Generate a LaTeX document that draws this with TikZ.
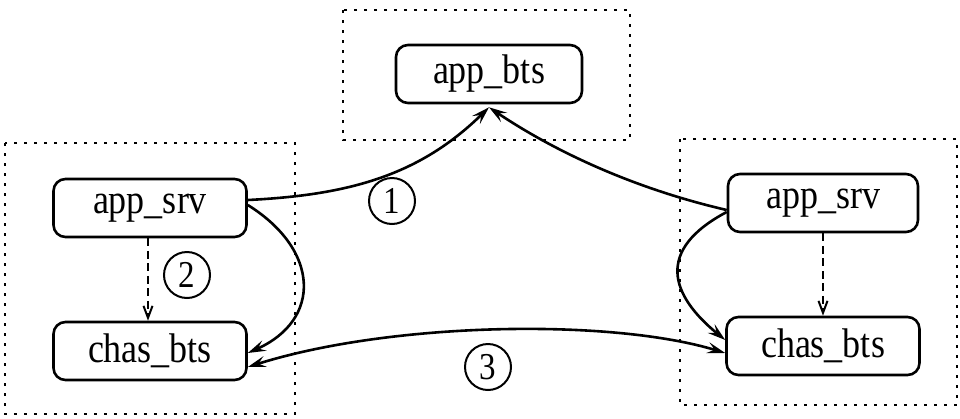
\documentclass[tikz,border=0pt]{standalone}
\usepackage{fontspec}
\usepackage{graphicx}
\setmainfont{Liberation Serif}
\usetikzlibrary{arrows.meta}
% labels are set slightly taller than wide
\newcommand\tall[1]{\scalebox{1}[1.15]{#1}}

\begin{document}
\begin{tikzpicture}[x=1pt,y=-1pt,
  proc/.style={draw,rounded corners=12pt,line width=2.6pt,minimum width=193pt,
    minimum height=58pt,inner sep=0pt,font=\fontsize{36}{40}\selectfont},
  group/.style={line width=2.8pt,dash pattern=on 2.8pt off 7.2pt},
  tag/.style={draw,circle,line width=2pt,minimum size=46pt,inner sep=0pt,
    font=\fontsize{33}{36}\selectfont},
  msg/.style={line width=2.6pt,-{Stealth[length=18pt,width=11pt,inset=7pt]}},
  msgboth/.style={line width=2.6pt,{Stealth[length=18pt,width=11pt,inset=7pt]}-{Stealth[length=18pt,width=11pt,inset=7pt]}},
  local/.style={line width=2pt,dash pattern=on 8pt off 4.5pt,
    -{Straight Barb[length=12pt,width=9pt,line width=2pt]}}]

\useasboundingbox (0,0) rectangle (960,418);

% dotted groups
\draw[group] (343,10) rectangle (630,140);
\draw[group] (5,143) rectangle (295,414);
\draw[group] (680,139) rectangle (957,405);

% processes
\node[proc,minimum width=186pt] (appbts) at (489,74) {\tall{app\_bts}};
\node[proc] (lsrv) at (150,208) {\tall{app\_srv}};
\node[proc] (lchas) at (150,351) {\tall{chas\_bts}};
\node[proc,minimum width=190pt] (rsrv) at (823,203) {\tall{app\_srv}};
\node[proc] (rchas) at (823,346) {\tall{chas\_bts}};

% step numbers
\node[tag] (n1) at (392,201) {\tall{1}};
\node[tag] (n2) at (187,275) {\tall{2}};
\node[tag] (n3) at (488,367) {\tall{3}};

% messages
\draw[msg] ([yshift=8pt]lsrv.east) .. controls (350,195) and (420,175) .. ([yshift=-3pt]appbts.south);
\draw[msg] ([yshift=-7pt]rsrv.west) .. controls (640,190) and (560,155) .. ([yshift=-3pt]appbts.south);
\draw[msg] ([yshift=3pt]lsrv.east) .. controls (320,250) and (322,320) .. ([yshift=-2pt]lchas.east);
\draw[msg] ([yshift=-9pt]rsrv.west) .. controls (655,250) and (670,295) .. ([yshift=6pt]rchas.west);
\draw[msgboth] ([yshift=-16pt]lchas.east) .. controls (390,322) and (610,318) .. ([yshift=-7pt]rchas.west);

% local steps
\draw[local] ([xshift=-2pt]lsrv.south) -- ([xshift=-2pt]lchas.north);
\draw[local] (rsrv.south) -- (rchas.north);
\end{tikzpicture}
\end{document}
